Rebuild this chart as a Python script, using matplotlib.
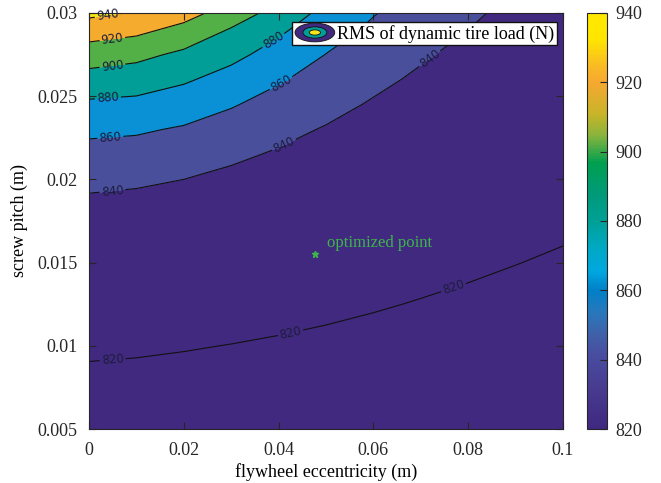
import numpy as np
import matplotlib
matplotlib.use("Agg")
import matplotlib.pyplot as plt
from matplotlib.colors import LinearSegmentedColormap, Normalize
from matplotlib.patches import Ellipse
from matplotlib.legend_handler import HandlerBase
from matplotlib.lines import Line2D

# grid (rows closer together near the top, where lines bunch up)
ecc = [0.0, 0.01, 0.02, 0.03, 0.04, 0.05, 0.06, 0.07, 0.08, 0.09, 0.1]
pitch = [0.005, 0.0075, 0.01, 0.0125, 0.015, 0.0175, 0.02, 0.0215,
         0.023, 0.0245, 0.026, 0.0275, 0.029, 0.03]

# RMS of dynamic tire load (N), one row per eccentricity, values along pitch
rms_load = [
    [812.9, 817.2, 821.7, 826.7, 831.7, 836.6, 841.7, 853.8, 863.8, 876.7, 892.3, 909.9, 929.9, 944.4],
    [812.6, 816.8, 821.3, 826.2, 831.2, 836.1, 841.1, 852.5, 862.3, 875.2, 889.2, 905.2, 925.1, 938.6],
    [812.0, 816.3, 820.6, 825.5, 830.3, 835.2, 840.0, 849.0, 858.1, 869.8, 882.4, 896.1, 914.4, 927.8],
    [811.3, 815.6, 819.8, 824.5, 829.1, 833.8, 838.5, 841.2, 852.5, 861.4, 872.9, 885.2, 898.6, 910.8],
    [810.4, 814.7, 818.9, 823.3, 827.7, 832.2, 836.6, 839.3, 841.9, 853.5, 861.8, 872.3, 883.6, 892.7],
    [810.0, 814.0, 818.0, 822.0, 826.2, 830.4, 834.5, 837.0, 839.5, 842.2, 852.7, 859.7, 868.2, 874.4],
    [809.2, 813.0, 816.9, 820.8, 824.6, 828.5, 832.4, 834.7, 837.0, 839.3, 841.7, 850.5, 856.7, 861.0],
    [808.6, 812.3, 815.9, 819.5, 823.1, 826.7, 830.2, 832.4, 834.5, 836.7, 838.8, 840.9, 847.7, 851.2],
    [808.2, 811.5, 814.9, 818.3, 821.6, 824.9, 828.2, 830.2, 832.1, 834.1, 836.1, 838.0, 840.0, 841.1],
    [807.3, 810.5, 813.8, 817.0, 820.2, 823.3, 826.3, 828.1, 829.9, 831.7, 833.5, 835.3, 837.1, 838.3],
    [806.3, 809.5, 812.6, 815.7, 818.8, 821.8, 824.6, 826.3, 828.0, 829.8, 831.5, 833.2, 834.9, 836.0],
]

levels = [820, 840, 860, 880, 900, 920, 940]
opt_x, opt_y = 0.0477, 0.0155

# where the inline labels sit
label_spots = [(0.004, 0.0297), (0.005, 0.0283), (0.005, 0.0267),
               (0.004, 0.0249), (0.0388, 0.0284),
               (0.0045, 0.02255), (0.0405, 0.0258),
               (0.005, 0.0192), (0.0413, 0.0220), (0.072, 0.0272),
               (0.005, 0.00915), (0.0425, 0.0108), (0.077, 0.0134)]

# parula-like colours as printed
band_colors = ["#41297F", "#41297F", "#4A4F9C", "#0A90D4", "#009E96",
               "#52B047", "#F5AB2E", "#F9E51B"]
cbar_colors = [(0.0, "#402880"), (0.1, "#483C90"), (0.175, "#484CA0"),
               (0.225, "#4060A8"), (0.28, "#2878BC"), (0.333, "#0080C8"),
               (0.38, "#00A8E0"), (0.44, "#00A8C0"), (0.5, "#00A096"),
               (0.566, "#009A78"), (0.64, "#00A050"), (0.708, "#8CB43C"),
               (0.758, "#C8B428"), (0.833, "#F5A830"), (0.87, "#F9B826"),
               (0.94, "#FFE600"), (1.0, "#FFE800")]
cmap = LinearSegmentedColormap.from_list("parula_ish", cbar_colors)

plt.rcParams["font.family"] = ["Liberation Serif", "DejaVu Serif"]

X, Y = np.meshgrid(ecc, pitch)
Z = np.array(rms_load).T

fig = plt.figure(figsize=(6.61, 4.83), dpi=100)
ax = fig.add_axes([0.1346, 0.1118, 0.7171, 0.8613])

ax.contourf(X, Y, Z, levels=[780] + levels + [990], colors=band_colors)
cs = ax.contour(X, Y, Z, levels=levels, colors="#111111", linewidths=0.8)
ax.clabel(cs, manual=label_spots, fmt="%d", fontsize=8.5, colors="#1c1c3c",
          inline=True, inline_spacing=4)
for t in cs.labelTexts:
    t.set_family("DejaVu Sans")
    t.set_clip_on(False)

ax.plot(opt_x, opt_y, marker="*", color="#3DB54A", markersize=5, linestyle="none")
ax.text(opt_x + 0.0025, opt_y + 0.0002, "optimized point", color="#3DB54A",
        fontsize=12, va="bottom", ha="left")

ax.set_xlim(0, 0.1)
ax.set_ylim(0.005, 0.03)
ax.set_xticks(np.arange(0, 0.1001, 0.02))
ax.set_yticks(np.arange(0.005, 0.03001, 0.005))
ax.xaxis.set_major_formatter(plt.FuncFormatter(lambda v, p: "%g" % round(v, 4)))
ax.yaxis.set_major_formatter(plt.FuncFormatter(lambda v, p: "%g" % round(v, 4)))
ax.tick_params(direction="in", top=True, right=True, length=5, width=0.8,
               labelsize=13, colors="#262626")
ax.tick_params(axis="y", pad=8)
ax.tick_params(axis="x", pad=9)
for s in ax.spines.values():
    s.set_linewidth(0.8)
    s.set_color("#262626")
ax.set_xlabel("flywheel eccentricity (m)", fontsize=13, labelpad=3)
ax.set_ylabel("screw pitch (m)", fontsize=13, labelpad=7)


class ContourIcon(HandlerBase):
    def create_artists(self, legend, orig, xd, yd, w, h, fontsize, trans):
        cx, cy = -xd + w / 2, -yd + h / 2
        out = []
        for k, col in [(1.0, band_colors[0]), (0.6, band_colors[4]), (0.28, band_colors[7])]:
            e = Ellipse((cx, cy), w * k, h * 1.25 * k, facecolor=col,
                        edgecolor="#111111", lw=0.6, transform=trans)
            out.append(e)
        return out


proxy = Line2D([], [])
leg = ax.legend([proxy], ["RMS of dynamic tire load (N)"], loc="upper right",
                bbox_to_anchor=(0.988, 0.978), borderaxespad=0, fontsize=13,
                handler_map={Line2D: ContourIcon()}, handlelength=2.2,
                handleheight=0.9, handletextpad=0.15, borderpad=0.15,
                fancybox=False, framealpha=1)
leg.get_frame().set_edgecolor("#111111")
leg.get_frame().set_linewidth(1.0)

cax = fig.add_axes([0.888, 0.1118, 0.0303, 0.8613])
sm = plt.cm.ScalarMappable(norm=Normalize(820, 940), cmap=cmap)
cb = fig.colorbar(sm, cax=cax, ticks=levels)
cb.ax.tick_params(direction="in", length=5, width=0.8, labelsize=13,
                  colors="#262626", pad=6)
cb.outline.set_linewidth(0.8)
cb.outline.set_edgecolor("#262626")

fig.savefig("out.png", dpi=100)
